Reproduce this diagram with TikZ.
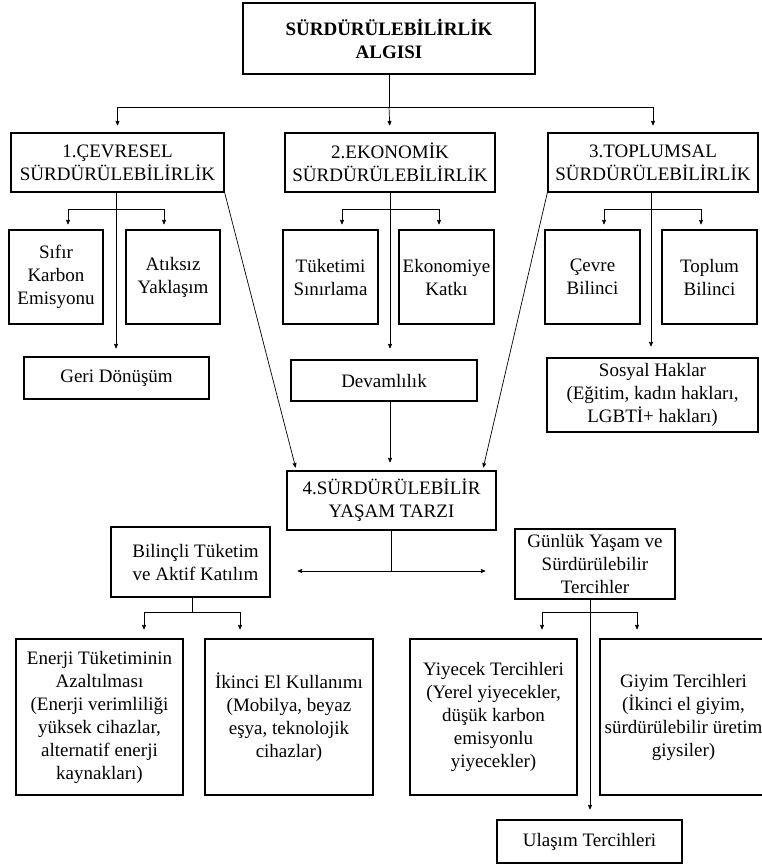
\documentclass[tikz,border=0pt]{standalone}
\usepackage{fontspec}
\setmainfont{Liberation Serif}
\usetikzlibrary{arrows}
\usetikzlibrary{calc}

\tikzset{
  box/.style={draw,line width=1.3pt,align=center,inner sep=1pt,font=\fontsize{19}{23}\selectfont},
  sq/.style={box,minimum width=95,minimum height=94},
  big/.style={box,minimum width=167,minimum height=156},
}

\begin{document}
\begin{tikzpicture}[x=1pt,y=-1pt,>=stealth',line width=0.7pt]
			\useasboundingbox(0,0)rectangle(761,864);
			% top
			\node[box,minimum width=292,minimum height=71](algi)at(389,38.5){\textbf{SÜRDÜRÜLEBİLİRLİK}\\\textbf{ALGISI}};
			\node[box,minimum width=213,minimum height=59](cevre)at(117.5,162.5){1.ÇEVRESEL\\SÜRDÜRÜLEBİLİRLİK};
			\node[box,minimum width=210,minimum height=59](ekonomi)at(390,162.5){2.EKONOMİK\\SÜRDÜRÜLEBİLİRLİK};
			\node[box,minimum width=210,minimum height=59](toplum)at(653,162.5){3.TOPLUMSAL\\SÜRDÜRÜLEBİLİRLİK};
			% second row
			\node[sq,minimum width=94](sifir)at(56,277){Sıfır\\Karbon\\Emisyonu};
			\node[sq,minimum width=94](atiksiz)at(173,277){Atıksız\\Yaklaşım};
			\node[sq](tuketimi)at(330.5,277){Tüketimi\\Sınırlama};
			\node[sq](katki)at(446.5,277){Ekonomiye\\Katkı};
			\node[sq](cbilinc)at(592.5,277){Çevre\\Bilinci};
			\node[sq](tbilinc)at(709.5,277){Toplum\\Bilinci};
			\node[box,minimum width=185,minimum height=42](geri)at(116.5,378){Geri Dönüşüm};
			\node[box,minimum width=186,minimum height=41](devam)at(384,380.5){Devamlılık};
			\node[box,minimum width=211,minimum height=74](sosyal)at(652.5,395){Sosyal Haklar\\(Eğitim, kadın hakları,\\LGBTİ+ hakları)};
			% lifestyle
			\node[box,minimum width=209,minimum height=59](yasam)at(391.5,500.5){4.SÜRDÜRÜLEBİLİR\\YAŞAM TARZI};
			\node[box,minimum width=159,minimum height=70](bilincli)at(190.5,562){\hspace*{10pt}Bilinçli Tüketim\\\hspace*{10pt}ve Aktif Katılım};
			\node[box,minimum width=160,minimum height=70](gunluk)at(595,564){Günlük Yaşam ve\\Sürdürülebilir\\Tercihler};
			\node[big](enerji)at(99.5,717){Enerji Tüketiminin\\Azaltılması\\(Enerji verimliliği\\yüksek cihazlar,\\alternatif enerji\\kaynakları)};
			\node[big,minimum width=168](ikinci)at(289,717){İkinci El Kullanımı\\(Mobilya, beyaz\\eşya, teknolojik\\cihazlar)};
			\node[big](yiyecek)at(493.5,717){Yiyecek Tercihleri\\(Yerel yiyecekler,\\düşük karbon\\emisyonlu\\yiyecekler)};
			\node[big](giyim)at(683.5,717){Giyim Tercihleri\\(İkinci el giyim,\\sürdürülebilir üretim\\giysiler)};
			\node[box,minimum width=185,minimum height=43](ulasim)at(589.5,841.5){Ulaşım Tercihleri};
			% connectors
			\coordinate(j0)at(389,107);
			\draw(algi)--(j0);
			\draw[->,shorten >=7pt](j0)-|(cevre.north);
			\draw[->,shorten >=7pt](j0)--(ekonomi.north);
			\draw[->,shorten >=7pt](j0)-|(toplum.north);
			\coordinate(j1)at(116,209);
			\draw[->,shorten >=8pt](cevre.south-|j1)--(geri.north-|j1);
			\draw[->,shorten >=5pt](j1)-|([xshift=12pt]sifir.north);
			\draw[->,shorten >=5pt](j1)-|([xshift=-9pt]atiksiz.north);
			\coordinate(j2)at(390,209);
			\draw[->,shorten >=11pt](ekonomi.south-|j2)--(devam.north-|j2);
			\draw[->,shorten >=5pt](j2)-|([xshift=11.5pt]tuketimi.north);
			\draw[->,shorten >=5pt](j2)-|([xshift=-7.5pt]katki.north);
			\draw[->,shorten >=8pt](devam.south-|j2)--(yasam.north-|j2);
			\coordinate(j3)at(651,209);
			\draw[->,shorten >=11pt](toplum.south-|j3)--(sosyal.north-|j3);
			\draw[->,shorten >=5pt](j3)-|([xshift=11.5pt]cbilinc.north);
			\draw[->,shorten >=5pt](j3)-|([xshift=-8.5pt]tbilinc.north);
			\draw[->,shorten >=3pt](cevre.south east)--([xshift=10pt]yasam.north west);
			\draw[->,shorten >=3pt](toplum.south west)--([xshift=-14pt]yasam.north east);
			\coordinate(j4)at(391.5,571);
			\draw(yasam.south)--(j4);
			\draw[->,shorten >=27pt](j4)--(bilincli.east|-j4);
			\draw[->,shorten >=29pt](j4)--(gunluk.west|-j4);
			\coordinate(j5)at(192,612);
			\draw(bilincli.south-|j5)--(j5);
			\draw[->,shorten >=9pt](j5)-|([xshift=44.5pt]enerji.north);
			\draw[->,shorten >=9pt](j5)-|([xshift=-49pt]ikinci.north);
			\coordinate(j6)at(590,612);
			\draw[->,shorten >=10pt](gunluk.south-|j6)--(ulasim.north-|j6);
			\draw[->,shorten >=9pt](j6)-|([xshift=48.5pt]yiyecek.north);
			\draw[->,shorten >=9pt](j6)-|([xshift=-46.5pt]giyim.north);
		\end{tikzpicture}
\end{document}
